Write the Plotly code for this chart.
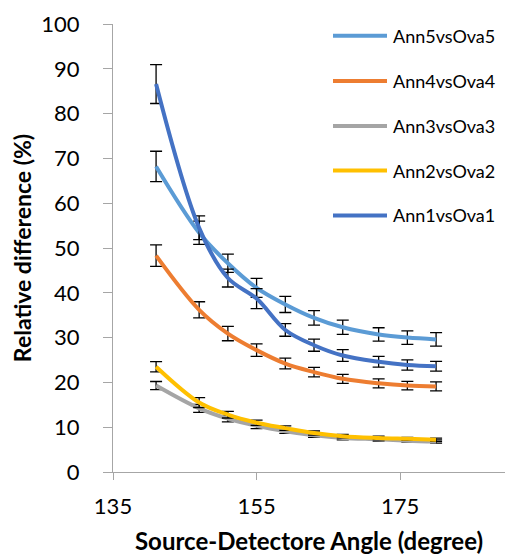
import plotly.graph_objects as go

angles = [141, 147, 151, 155, 159, 163, 167, 172, 176, 180]

ann5 = [68.2, 53.4, 46.6, 41.1, 37.4, 34.4, 32.3, 30.7, 30.0, 29.6]
ann5_err = [3.4, 2.6, 2.05, 2.1, 1.8, 1.6, 1.6, 1.5, 1.5, 1.5]
ann4 = [48.3, 36.2, 30.9, 27.2, 24.2, 22.3, 20.8, 19.8, 19.3, 19.1]
ann4_err = [2.4, 1.8, 1.6, 1.4, 1.2, 1.05, 1.0, 1.0, 0.95, 1.0]
ann3 = [19.3, 14.2, 11.9, 10.3, 9.1, 8.2, 7.6, 7.3, 7.0, 6.8]
ann3_err = [0.9, 0.9, 0.7, 0.6, 0.5, 0.45, 0.4, 0.4, 0.35, 0.35]
ann2 = [23.5, 15.5, 12.8, 11.0, 9.8, 8.7, 8.0, 7.6, 7.4, 7.2]
ann2_err = [1.15, 1.1, 0.75, 0.6, 0.5, 0.45, 0.4, 0.4, 0.35, 0.35]
ann1 = [86.6, 54.5, 43.3, 38.7, 31.7, 28.3, 26.0, 24.6, 23.9, 23.6]
ann1_err = [4.35, 2.65, 2.0, 2.25, 1.4, 1.35, 1.3, 1.2, 1.15, 1.1]

series_names = ["Ann5vsOva5", "Ann4vsOva4", "Ann3vsOva3", "Ann2vsOva2", "Ann1vsOva1"]
series_vals = [ann5, ann4, ann3, ann2, ann1]
series_errs = [ann5_err, ann4_err, ann3_err, ann2_err, ann1_err]
colors = ["#5B9BD5", "#ED7D31", "#A5A5A5", "#FFC000", "#4472C4"]

FONT = "Lato"
W, H = 505, 555
ML, MR, MT, MB = 113, 0, 24, 82.5
PW, PH = W - ML - MR, H - MT - MB


def px_x(p):
    return (p - ML) / PW


def px_y(p):
    return (H - MB - p) / PH


fig = go.Figure()
for name, vals, errs, col in zip(series_names, series_vals, series_errs, colors):
    fig.add_trace(go.Scatter(
        x=angles, y=vals, name=name, mode="lines",
        line=dict(color=col, width=4, shape="spline", smoothing=1),
        error_y=dict(type="data", array=errs, visible=True,
                     color="black", thickness=1.3, width=6),
        showlegend=False,
    ))

# legend drawn as shapes + text (Excel-style long line samples)
legend_rows = [35.7, 81.0, 126.0, 170.7, 215.7]
for name, col, ry in zip(series_names, colors, legend_rows):
    fig.add_shape(type="line", xref="paper", yref="paper",
                  x0=px_x(333), x1=px_x(387), y0=px_y(ry), y1=px_y(ry),
                  line=dict(color=col, width=4))
    fig.add_annotation(xref="paper", yref="paper", x=px_x(391), y=px_y(ry),
                       xanchor="left", yanchor="middle", showarrow=False,
                       text=name, font=dict(family=FONT, size=18, color="black"))

fig.update_layout(
    width=W, height=H,
    margin=dict(l=ML, r=MR, t=MT, b=MB, autoexpand=False),
    paper_bgcolor="white", plot_bgcolor="white",
    font=dict(family=FONT, color="black"),
    showlegend=False,
    xaxis=dict(
        range=[135, 189.6], tickvals=[135, 155, 175],
        showgrid=False, zeroline=False, automargin=False,
        showline=True, linecolor="#A6A6A6", linewidth=1,
        ticks="outside", ticklen=7, tickcolor="#A6A6A6",
        tickfont=dict(family=FONT, size=22),
        ticklabelstandoff=8,
        title=dict(text="<b>Source-Detectore Angle (degree)</b>",
                   font=dict(family=FONT, size=24), standoff=20),
    ),
    yaxis=dict(
        range=[0, 100], dtick=10,
        showgrid=False, zeroline=False, automargin=False,
        showline=True, linecolor="#A6A6A6", linewidth=1,
        ticks="outside", ticklen=9, tickcolor="#A6A6A6",
        tickfont=dict(family=FONT, size=22),
        ticklabelstandoff=19,
        title=dict(text="<b>Relative difference (%)</b>",
                   font=dict(family=FONT, size=23), standoff=3),
    ),
)

fig.write_html(
    "out.html",
    config={"displayModeBar": False},
    post_script="document.body.style.margin='0';document.body.style.overflow='hidden';",
)
